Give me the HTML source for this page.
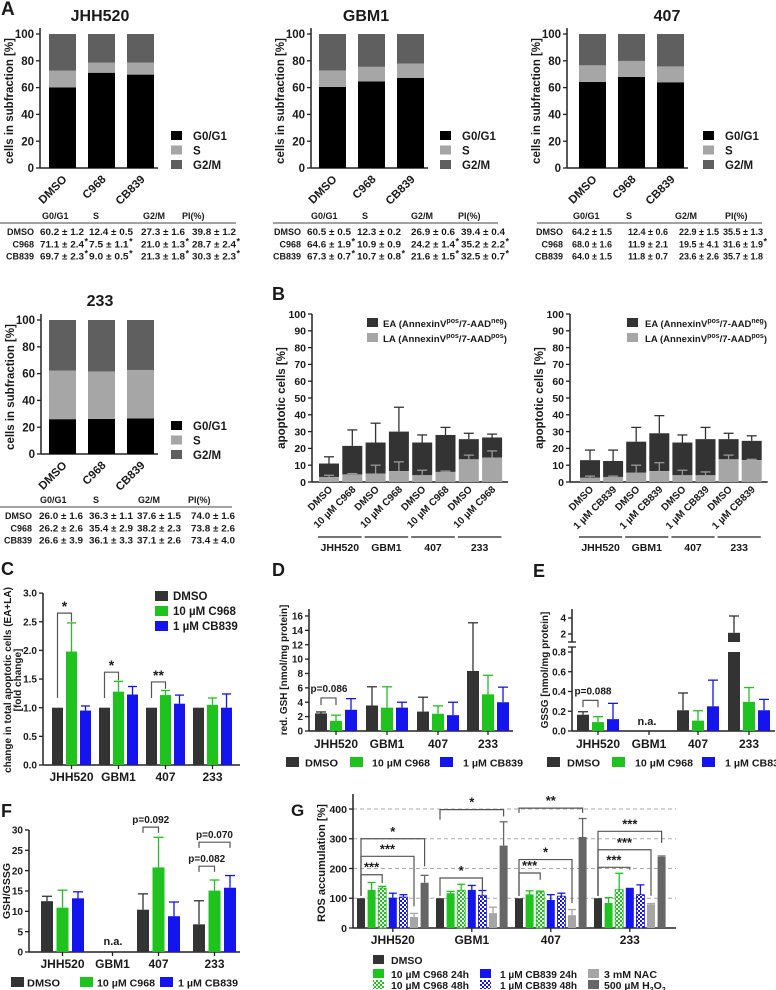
<!DOCTYPE html>
<html><head><meta charset="utf-8">
<style>
html,body{margin:0;padding:0;background:#fff;}
svg{display:block;font-family:"Liberation Sans",Arial,sans-serif;font-weight:bold;}
text{fill:#1a1a1a;}
</style></head>
<body>
<svg id="fig" width="776" height="990" viewBox="0 0 776 990" xmlns="http://www.w3.org/2000/svg">
<defs>
<pattern id="chkG" width="4" height="4" patternUnits="userSpaceOnUse"><rect width="4" height="4" fill="#fff"/><rect width="2" height="2" fill="#1ec31e"/><rect x="2" y="2" width="2" height="2" fill="#1ec31e"/></pattern>
<pattern id="chkB" width="4" height="4" patternUnits="userSpaceOnUse"><rect width="4" height="4" fill="#fff"/><rect width="2" height="2" fill="#1414ee"/><rect x="2" y="2" width="2" height="2" fill="#1414ee"/></pattern>
</defs>
<text x="1" y="15" font-size="19">A</text>
<text x="272" y="300" font-size="18">B</text>
<text x="1" y="575" font-size="18">C</text>
<text x="272" y="576" font-size="18">D</text>
<text x="533" y="577" font-size="18">E</text>
<text x="1" y="817" font-size="18">F</text>
<text x="291" y="816" font-size="17">G</text>
<!-- B legends -->
<g font-size="9.5">
<rect x="367" y="318" width="11" height="9" fill="#333"/><text x="383" y="327" textLength="124" lengthAdjust="spacingAndGlyphs">EA (AnnexinV<tspan dy="-4" font-size="7">pos</tspan><tspan dy="4">/7-AAD</tspan><tspan dy="-4" font-size="7">neg</tspan><tspan dy="4">)</tspan></text>
<rect x="367" y="333" width="11" height="9" fill="#a6a6a6"/><text x="383" y="342" textLength="124" lengthAdjust="spacingAndGlyphs">LA (AnnexinV<tspan dy="-4" font-size="7">pos</tspan><tspan dy="4">/7-AAD</tspan><tspan dy="-4" font-size="7">pos</tspan><tspan dy="4">)</tspan></text>
</g>
<g font-size="9.5">
<rect x="627" y="318" width="11" height="9" fill="#333"/><text x="645" y="327" textLength="122" lengthAdjust="spacingAndGlyphs">EA (AnnexinV<tspan dy="-4" font-size="7">pos</tspan><tspan dy="4">/7-AAD</tspan><tspan dy="-4" font-size="7">neg</tspan><tspan dy="4">)</tspan></text>
<rect x="627" y="333" width="11" height="9" fill="#a6a6a6"/><text x="645" y="342" textLength="122" lengthAdjust="spacingAndGlyphs">LA (AnnexinV<tspan dy="-4" font-size="7">pos</tspan><tspan dy="4">/7-AAD</tspan><tspan dy="-4" font-size="7">pos</tspan><tspan dy="4">)</tspan></text>
</g>
<!-- G legend -->
<g font-size="10.5">
<rect x="373" y="955" width="11" height="9" fill="#333"/><text x="391" y="964">DMSO</text>
<rect x="373" y="969" width="11" height="9" fill="#1ec31e"/><text x="391" y="978" textLength="78" lengthAdjust="spacingAndGlyphs">10 µM C968 24h</text>
<rect x="373" y="980" width="11" height="9" fill="url(#chkG)"/><text x="391" y="989" textLength="78" lengthAdjust="spacingAndGlyphs">10 µM C968 48h</text>
<rect x="480" y="969" width="11" height="9" fill="#1414ee"/><text x="500" y="978" textLength="77" lengthAdjust="spacingAndGlyphs">1 µM CB839 24h</text>
<rect x="480" y="980" width="11" height="9" fill="url(#chkB)"/><text x="500" y="989" textLength="77" lengthAdjust="spacingAndGlyphs">1 µM CB839 48h</text>
<rect x="588" y="969" width="11" height="9" fill="#a6a6a6"/><text x="604" y="978" textLength="53" lengthAdjust="spacingAndGlyphs">3 mM NAC</text>
<rect x="588" y="980" width="11" height="9" fill="#666"/><text x="604" y="989">500 µM H<tspan dy="3" font-size="7">2</tspan><tspan dy="-3">O</tspan><tspan dy="3" font-size="7">2</tspan></text>
</g>
</svg>
<script>
// ---------- DATA ----------
const cyclePhases = ['G0/G1','S','G2/M'];
const cycleTreat = ['DMSO','C968','CB839'];
const jhhG0 = [60.2, 71.1, 69.7];
const jhhS = [12.4, 7.5, 9.0];
const gbmG0 = [60.5, 64.6, 67.3];
const gbmS = [12.3, 10.9, 10.7];
const c407G0 = [64.2, 68.0, 64.0];
const c407S = [12.4, 11.9, 11.8];
const c233G0 = [26.0, 26.2, 26.6];
const c233S = [36.3, 35.4, 36.1];
const cycleTicks = [0, 20, 40, 60, 80, 100];
const tblHeader = ['G0/G1','S','G2/M','PI(%)'];
const jhhTable = [['60.2 ± 1.2','12.4 ± 0.5','27.3 ± 1.6','39.8 ± 1.2'],['71.1 ± 2.4*','7.5 ± 1.1*','21.0 ± 1.3*','28.7 ± 2.4*'],['69.7 ± 2.3*','9.0 ± 0.5*','21.3 ± 1.8*','30.3 ± 2.3*']];
const gbmTable = [['60.5 ± 0.5','12.3 ± 0.2','26.9 ± 0.6','39.4 ± 0.4'],['64.6 ± 1.9*','10.9 ± 0.9','24.2 ± 1.4*','35.2 ± 2.2*'],['67.3 ± 0.7*','10.7 ± 0.8*','21.6 ± 1.5*','32.5 ± 0.7*']];
const t407Table = [['64.2 ± 1.5','12.4 ± 0.6','22.9 ± 1.5','35.5 ± 1.3'],['68.0 ± 1.6','11.9 ± 2.1','19.5 ± 4.1','31.6 ± 1.9*'],['64.0 ± 1.5','11.8 ± 0.7','23.6 ± 2.6','35.7 ± 1.8']];
const t233Table = [['26.0 ± 1.6','36.3 ± 1.1','37.6 ± 1.5','74.0 ± 1.6'],['26.2 ± 2.6','35.4 ± 2.9','38.2 ± 2.3','73.8 ± 2.6'],['26.6 ± 3.9','36.1 ± 3.3','37.1 ± 2.6','73.4 ± 4.0']];

const cells = ['JHH520','GBM1','407','233'];
const bTicks = [0,10,20,30,40,50,60,70,80,90,100];
const bLeftTotal = [11, 21.5, 23.5, 30, 23.5, 28, 25.5, 26.5];
const bLeftTotalErr = [4, 9.5, 11.5, 14.5, 4.5, 4.5, 3.5, 2];
const bLeftLA = [3, 4.5, 5, 6.5, 4, 6, 13.5, 14.5];
const bLeftLAErr = [1, 0.5, 5, 5.5, 3, 0.5, 2.5, 4];
const bRightTotal = [13, 12.5, 24, 29, 23.5, 25.5, 25.5, 24.5];
const bRightTotalErr = [6, 6.5, 8.5, 10.5, 4.5, 7, 3.5, 3];
const bRightLA = [2.5, 3, 5.5, 6.5, 4, 4, 13.5, 13];
const bRightLAErr = [1, 0.5, 4.5, 5, 3, 2, 2.5, 0.5];

const cTicks = [0, 0.5, 1.0, 1.5, 2.0, 2.5, 3.0];
const cDMSO = [1, 1, 1, 1];
const cC968 = [1.98, 1.28, 1.22, 1.05];
const cC968Err = [0.5, 0.18, 0.08, 0.12];
const cCB839 = [0.95, 1.23, 1.07, 1.0];
const cCB839Err = [0.08, 0.14, 0.15, 0.24];
const cSigGroup = [0, 1, 2];
const cSigTop = [2.65, 1.62, 1.45];
const cSigRight = [2.5, 1.48, 1.33];
const cSigLabel = ['*', '*', '**'];

const dTicks = [0,2,4,6,8,10,12,14,16];
const dDMSO = [2.45, 3.55, 2.7, 8.35];
const dDMSOErr = [0.2, 2.6, 2.0, 6.7];
const dC968 = [1.4, 3.25, 2.4, 5.1];
const dC968Err = [0.8, 2.9, 1.1, 2.65];
const dCB839 = [2.95, 3.25, 2.2, 4.0];
const dCB839Err = [1.55, 0.75, 1.8, 2.1];

const eTicksLow = [0, 0.2, 0.4, 0.6, 0.8];
const eTicksHigh = [2, 4];
const eDMSO = [0.165, null, 0.21, 2.15];
const eDMSOErr = [0.03, null, 0.175, 2.1];
const eC968 = [0.09, null, 0.105, 0.295];
const eC968Err = [0.055, null, 0.1, 0.145];
const eCB839 = [0.12, null, 0.25, 0.21];
const eCB839Err = [0.16, null, 0.265, 0.11];

const fTicks = [0,5,10,15,20,25,30];
const fDMSO = [12.5, null, 10.4, 6.8];
const fDMSOErr = [1.2, null, 3.9, 5.8];
const fC968 = [10.9, null, 20.8, 15.1];
const fC968Err = [4.3, null, 7.4, 2.6];
const fCB839 = [13.2, null, 8.8, 15.8];
const fCB839Err = [1.6, null, 3.5, 3.0];
const fSigGroup = [2, 3, 3];
const fSigBar = [1, 2, 1];
const fSigTop = [30.7, 27.0, 21.1];
const fSigLabel = ['p=0.092', 'p=0.070', 'p=0.082'];

const gTicks = [0, 100, 200, 300, 400];
const gDMSO = [100, 100, 100, 100];
const gC968_24 = [128, 117, 113, 84];
const gC968_24Err = [25, 6, 12, 18];
const gC968_48 = [134, 127, 121, 129];
const gC968_48Err = [6, 20, 3, 55];
const gCB_24 = [102, 128, 94, 131];
const gCB_24Err = [15, 15, 18, 2];
const gCB_48 = [104, 110, 107, 112];
const gCB_48Err = [8, 16, 10, 33];
const gNAC = [37, 50, 43, 79];
const gNACErr = [12, 20, 19, 3];
const gH2O2 = [152, 277, 306, 239];
const gH2O2Err = [25, 80, 62, 3];
const gSigGroup = [0, 0, 0, 1, 1, 2, 2, 2, 3, 3, 3];
const gSigBar = [2, 5, 6, 4, 6, 2, 5, 6, 3, 5, 6];
const gSigTop = [179, 241, 300, 168, 398, 185, 230, 403, 204, 263, 325];
const gSigRight = [151, 73, 207, 95, 375, 162, 84, 387, 196, 109, 286];
const gSigLeft = [108, 108, 108, 108, 364, 108, 108, 387, 108, 108, 108];
const gSigLabel = ['***', '***', '*', '*', '*', '***', '*', '**', '***', '***', '***'];

// ---------- HELPERS ----------
const NS = 'http://www.w3.org/2000/svg';
const svg = document.getElementById('fig');
function mk(tag, attrs, name, parent) {
  const e = document.createElementNS(NS, tag);
  for (const k in attrs) e.setAttribute(k, attrs[k]);
  
  
  (parent || svg).appendChild(e);
  return e;
}
function txt(x, y, s, size, anchor, name, extra) {
  const a = Object.assign({x: x, y: y, 'font-size': size, 'text-anchor': anchor || 'start'}, extra || {});
  const t = mk('text', a, name);
  t.textContent = s;
  return t;
}
function ln(x1, y1, x2, y2, stroke, sw, name) {
  return mk('line', {x1: x1, y1: y1, x2: x2, y2: y2, stroke: stroke, 'stroke-width': sw}, name);
}
function rc(x, y, w, h, fill, name) {
  return mk('rect', {x: x, y: y, width: w, height: Math.max(0, h), fill: fill}, name);
}
function err(cx, y1, y2, col, cap, name) {
  ln(cx, y1, cx, y2, col, 1.3, name);
  ln(cx - cap / 2, y2, cx + cap / 2, y2, col, 1.3, name + '-cap');
}
function vlabel(x, y, s, size, name) {
  return txt(x, y, s, size, 'middle', name, {transform: 'rotate(-90 ' + x + ' ' + y + ')'});
}
function bracket(x1, yl, x2, yt, yr, name) {
  mk('path', {d: 'M' + x1 + ' ' + yl + 'V' + yt + 'H' + x2 + 'V' + yr, fill: 'none', stroke: '#555', 'stroke-width': 1.2}, name);
}
function yAxis(ax, yTop, yBot, ticks, ys, size, fmt, name) {
  ln(ax, yTop, ax, yBot, '#222', 1.5, name + '-line');
  ticks.forEach(v => {
    const y = ys(v);
    ln(ax - 4, y, ax, y, '#222', 1.3, name + '-tick');
    txt(ax - 6, y + size * 0.36, fmt(v), size, 'end', name + '-tick-label');
  });
}

// ---------- PANEL A ----------
const COLG0 = '#000', COLS = '#a6a6a6', COLG2 = '#5f5f5f';
function cyclePanel(p, g0, s, tbl) {
  const ys = v => p.y0 - v * (p.y0 - p.y100) / 100;
  txt(p.tx, p.ty, p.title, 16, 'middle', 'cell-cycle-title-' + p.key);
  yAxis(p.ax, p.y100 - 6, p.y0, cycleTicks, ys, 11.5, v => String(v), 'cell-cycle-y-axis-' + p.key);
  vlabel(p.ax - 27, (p.y0 + p.y100) / 2, 'cells in subfraction [%]', 11.5, 'cell-cycle-y-title-' + p.key);
  ln(p.ax, p.y0, p.bx + 2 * 39 + 31, p.y0, '#222', 1.5, 'cell-cycle-x-axis-' + p.key);
  cycleTreat.forEach((t, i) => {
    const x = p.bx + i * 39;
    rc(x, ys(g0[i]), 27, ys(0) - ys(g0[i]), COLG0, 'bar-g0g1-' + p.key + '-' + t);
    rc(x, ys(g0[i] + s[i]), 27, ys(g0[i]) - ys(g0[i] + s[i]), COLS, 'bar-s-' + p.key + '-' + t);
    rc(x, ys(100), 27, ys(g0[i] + s[i]) - ys(100), COLG2, 'bar-g2m-' + p.key + '-' + t);
    const cx = x + 13.5 + 5, cy = p.y0 + 12;
    txt(cx, cy, t, 11.5, 'end', 'x-tick-label-' + p.key, {transform: 'rotate(-45 ' + cx + ' ' + cy + ')'});
  });
  [COLG0, COLS, COLG2].forEach((c, i) => {
    rc(p.lx, p.ly + i * 14.5, 11, 9, c, 'legend-swatch-' + p.key);
    txt(p.lx + 22, p.ly + 9 + i * 14.5, cyclePhases[i], 11.5, 'start', 'legend-entry-' + p.key);
  });
  tblHeader.forEach((h, i) => txt(p.hx[i], p.tyh, h, 9, 'start', 'table-header-' + p.key, {fill: '#333'}));
  ln(p.l1, p.tyh + 4, p.l2, p.tyh + 4, '#444', 1, 'table-rule-' + p.key);
  tbl.forEach((row, r) => {
    const y = p.tyh + 16 + r * 12.3;
    txt(p.lr, y, cycleTreat[r], 9, 'end', 'table-row-label-' + p.key, {fill: '#333'});
    row.forEach((v, c) => {
      const star = v.endsWith('*');
      const main = star ? v.slice(0, -1) : v;
      const len = main.length * p.cw;
      txt(p.vx[c], y, main, 9, 'start', 'table-cell-' + p.key, {fill: '#333', textLength: len, lengthAdjust: 'spacingAndGlyphs'});
      if (star) txt(p.vx[c] + len + 0.5, y - 3, '*', 9, 'start', 'table-star-' + p.key, {fill: '#333'});
    });
  });
}
cyclePanel({key:'jhh520', title:'JHH520', tx:100, ty:21, ax:40, y100:34, y0:168, bx:49, lx:171, ly:131, cw:4.4,
  hx:[42,93,143,182], vx:[40,89,141,192], lr:34, tyh:219, l1:0, l2:236}, jhhG0, jhhS, jhhTable);
cyclePanel({key:'gbm1', title:'GBM1', tx:366, ty:21, ax:311, y100:34, y0:168, bx:319, lx:440, ly:131, cw:4.4,
  hx:[311,362,411,458], vx:[307,357,411,461], lr:301, tyh:219, l1:273, l2:498}, gbmG0, gbmS, gbmTable);
cyclePanel({key:'407', title:'407', tx:667, ty:21, ax:567, y100:34, y0:168, bx:579, lx:703, ly:131, cw:4.0,
  hx:[573,626,675,725], vx:[572,628,679,723], lr:563, tyh:219, l1:537, l2:762}, c407G0, c407S, t407Table);
cyclePanel({key:'233', title:'233', tx:100, ty:306, ax:41, y100:320, y0:454, bx:49, lx:171, ly:421, cw:4.4,
  hx:[40,93,138,188], vx:[39,89,137,191], lr:32, tyh:503, l1:0, l2:232}, c233G0, c233S, t233Table);

// ---------- PANEL B ----------
function apoPanel(p, tot, totErr, la, laErr, treatName) {
  const ys = v => p.y0 - v * (p.y0 - p.y100) / 100;
  yAxis(p.ax, p.y100, p.y0, bTicks, ys, 10.5, v => String(v), 'apoptosis-y-axis-' + p.key);
  vlabel(p.ax - 27, (p.y0 + p.y100) / 2, 'apoptotic cells [%]', 11.5, 'apoptosis-y-title-' + p.key);
  ln(p.ax, p.y0, p.bx + 7 * p.step + 26, p.y0, '#222', 1.5, 'apoptosis-x-axis-' + p.key);
  tot.forEach((v, i) => {
    const x = p.bx + i * p.step, cx = x + 10;
    err(cx, ys(v), ys(v + totErr[i]), '#333', 10, 'apoptosis-ea-error-' + p.key);
    rc(x, ys(v), 20, ys(la[i]) - ys(v), '#333', 'apoptosis-ea-bar-' + p.key);
    rc(x, ys(la[i]), 20, ys(0) - ys(la[i]), '#a6a6a6', 'apoptosis-la-bar-' + p.key);
    err(cx, ys(la[i]), ys(la[i] + laErr[i]), '#999', 10, 'apoptosis-la-error-' + p.key);
    const lx = cx + 4, ly = p.y0 + 8;
    txt(lx, ly, i % 2 ? treatName : 'DMSO', 10, 'end', 'apoptosis-x-tick-label-' + p.key, {transform: 'rotate(-45 ' + lx + ' ' + ly + ')'});
  });
  cells.forEach((c, g) => {
    const x1 = p.bx + g * 2 * p.step - 1, x2 = x1 + 2 * p.step - 3;
    ln(x1, 537, x2, 537, '#222', 1.3, 'apoptosis-group-line-' + p.key);
    txt((x1 + x2) / 2, 551, c, 10.5, 'middle', 'apoptosis-group-label-' + p.key);
  });
}
apoPanel({key:'c968', ax:312, y100:314, y0:482, bx:319, step:23.3}, bLeftTotal, bLeftTotalErr, bLeftLA, bLeftLAErr, '10 µM C968');
apoPanel({key:'cb839', ax:570, y100:314, y0:482, bx:580, step:23.1}, bRightTotal, bRightTotalErr, bRightLA, bRightLAErr, '1 µM CB839');

// ---------- GROUPED BAR helper (C,D,E,F) ----------
const DK = '#333', GR = '#1ec31e', BL = '#1414ee';
function groupBars(p, series, errs, ys, key) {
  const cols = [DK, GR, BL];
  series.forEach((arr, s) => {
    arr.forEach((v, g) => {
      if (v === null) return;
      const x = p.gx[g] + s * p.step, cx = x + p.w / 2;
      if (errs[s] && errs[s][g]) err(cx, ys(v), ys(v + errs[s][g]), cols[s], p.w - 2, key + '-error');
      if (p.split && v > 0.8) {
        rc(x, ys(0.8), p.w, ys(0) - ys(0.8), cols[s], key + '-bar-lower');
        rc(x, p.hs(v), p.w, p.hs(1) - p.hs(v), cols[s], key + '-bar-upper');
      } else {
        rc(x, ys(v), p.w, ys(0) - ys(v), cols[s], key + '-bar');
      }
    });
  });
  cells.forEach((c, g) => {
    const cx = p.gx[g] + p.step + p.w / 2;
    ln(cx, p.y0, cx, p.y0 + 4, '#222', 1.3, key + '-x-tick');
    txt(cx, p.ly, c, 12, 'middle', key + '-x-tick-label');
  });
}
function legendRow(xs, txs, y, key) {
  const names = ['DMSO', '10 µM C968', '1 µM CB839'];
  const lens = [33, 58, 60];
  [DK, GR, BL].forEach((c, i) => {
    rc(xs[i], y, 13, 10, c, key + '-legend-swatch');
    txt(txs[i], y + 9.5, names[i], 10.5, 'start', key + '-legend-entry', {textLength: lens[i], lengthAdjust: 'spacingAndGlyphs'});
  });
}

// ---------- PANEL C ----------
(function () {
  const y0 = 765, k = 57.3, ys = v => y0 - v * k;
  const p = {gx: [52, 99, 146, 193], step: 14, w: 11, y0: y0, ly: 781};
  yAxis(43, ys(3), y0, cTicks, ys, 10, v => v.toFixed(1), 'c-y-axis');
  ln(43, y0, 240, y0, '#222', 1.5, 'c-x-axis');
  groupBars(p, [cDMSO, cC968, cCB839], [null, cC968Err, cCB839Err], ys, 'c');
  cSigGroup.forEach((g, i) => {
    const x1 = p.gx[g] + p.w / 2, x2 = p.gx[g] + p.step + p.w / 2;
    bracket(x1, ys(1.17), x2, ys(cSigTop[i]), ys(cSigRight[i]), 'c-significance-bracket');
    txt((x1 + x2) / 2, ys(cSigTop[i]) - 2, cSigLabel[i], 14, 'middle', 'c-significance-label');
  });
  vlabel(11, 680, 'change in total apoptotic cells (EA+LA)', 10, 'c-y-title');
  vlabel(21, 680, '[fold change]', 10, 'c-y-title-2');
  const names = ['DMSO', '10 µM C968', '1 µM CB839'];
  [DK, GR, BL].forEach((c, i) => {
    rc(155, 591 + i * 15, 13, 10, c, 'c-legend-swatch');
    txt(173, 600 + i * 15, names[i], 11.5, 'start', 'c-legend-entry');
  });
})();

// ---------- PANEL D ----------
(function () {
  const y0 = 731, k = 7.19, ys = v => y0 - v * k;
  const p = {gx: [315, 366, 417, 467], step: 15, w: 12, y0: y0, ly: 748};
  yAxis(309, 609, y0, dTicks, ys, 10, v => String(v), 'd-y-axis');
  ln(309, y0, 513, y0, '#222', 1.5, 'd-x-axis');
  groupBars(p, [dDMSO, dC968, dCB839], [dDMSOErr, dC968Err, dCB839Err], ys, 'd');
  bracket(p.gx[0] + 6, ys(3.6), p.gx[0] + 21, ys(4.6), ys(3.6), 'd-significance-bracket');
  txt(p.gx[0] + 14, ys(5.4), 'p=0.086', 10, 'middle', 'd-significance-label');
  vlabel(287, 670, 'red. GSH [nmol/mg protein]', 10, 'd-y-title');
  legendRow([286, 350, 440], [305, 372, 463], 757, 'd');
})();

// ---------- PANEL E ----------
(function () {
  const y0 = 731, k = 98.75, ys = v => y0 - v * k;
  const hs = v => 642 - (v - 1) * 8;
  const ysAll = v => v <= 0.8 ? ys(v) : hs(v);
  const p = {gx: [577, 628, 677, 728], step: 15, w: 12, y0: y0, ly: 748, split: true, hs: hs};
  ln(572, 647, 572, y0, '#222', 1.5, 'e-y-axis-lower');
  ln(572, 609, 572, 642, '#222', 1.5, 'e-y-axis-upper');
  ln(568, 647, 576, 647, '#222', 1.3, 'e-axis-break');
  ln(568, 642, 576, 642, '#222', 1.3, 'e-axis-break');
  eTicksLow.forEach(v => { ln(568, ys(v), 572, ys(v), '#222', 1.3, 'e-y-tick'); txt(566, ys(v) + 3.6, v.toFixed(1), 10, 'end', 'e-y-tick-label'); });
  eTicksHigh.forEach(v => { ln(568, hs(v), 572, hs(v), '#222', 1.3, 'e-y-tick'); txt(566, hs(v) + 3.6, String(v), 10, 'end', 'e-y-tick-label'); });
  ln(572, y0, 775, y0, '#222', 1.5, 'e-x-axis');
  groupBars(p, [eDMSO, eC968, eCB839], [eDMSOErr, eC968Err, eCB839Err], ysAll, 'e');
  txt(647, 725, 'n.a.', 11, 'middle', 'e-na-label');
  bracket(p.gx[0] + 6, ys(0.24), p.gx[0] + 21, ys(0.31), ys(0.24), 'e-significance-bracket');
  txt(p.gx[0] + 16, ys(0.37), 'p=0.088', 10, 'middle', 'e-significance-label');
  vlabel(548, 670, 'GSSG [nmol/mg protein]', 10, 'e-y-title');
  legendRow([547, 612, 702], [567, 635, 725], 757, 'e');
})();

// ---------- PANEL F ----------
(function () {
  const y0 = 952, k = 4.067, ys = v => y0 - v * k;
  const p = {gx: [41, 91, 137, 193], step: 15.5, w: 12, y0: y0, ly: 968};
  yAxis(29, ys(30), y0, fTicks, ys, 10, v => String(v), 'f-y-axis');
  ln(29, y0, 240, y0, '#222', 1.5, 'f-x-axis');
  groupBars(p, [fDMSO, fC968, fCB839], [fDMSOErr, fC968Err, fCB839Err], ys, 'f');
  txt(113, 945, 'n.a.', 11, 'middle', 'f-na-label');
  fSigGroup.forEach((g, i) => {
    const x1 = p.gx[g] + p.w / 2, x2 = p.gx[g] + fSigBar[i] * p.step + p.w / 2;
    bracket(x1, ys(fSigTop[i] - 1.4), x2, ys(fSigTop[i]), ys(fSigTop[i] - 1.4), 'f-significance-bracket');
    txt((x1 + x2) / 2, ys(fSigTop[i]) - 4, fSigLabel[i], 10, 'middle', 'f-significance-label');
  });
  vlabel(10, 891, 'GSH/GSSG', 10.5, 'f-y-title');
  legendRow([11, 80, 160], [27, 97, 178], 977, 'f');
})();

// ---------- PANEL G ----------
(function () {
  const y0 = 928, k = 0.2975, ys = v => y0 - v * k;
  const gx = [357, 436, 515, 594], step = 10.6, w = 8;
  gTicks.forEach(v => { if (v > 0) mk('line', {x1: 353, y1: ys(v), x2: 676, y2: ys(v), stroke: '#aaa', 'stroke-width': 1, 'stroke-dasharray': '4 3'}, 'g-gridline'); });
  yAxis(353, 794, y0, gTicks, ys, 10.5, v => String(v), 'g-y-axis');
  ln(353, y0, 676, y0, '#222', 1.5, 'g-x-axis');
  const ser = [gDMSO, gC968_24, gC968_48, gCB_24, gCB_48, gNAC, gH2O2];
  const errs = [null, gC968_24Err, gC968_48Err, gCB_24Err, gCB_48Err, gNACErr, gH2O2Err];
  const fills = ['#333', '#1ec31e', 'url(#chkG)', '#1414ee', 'url(#chkB)', '#a6a6a6', '#666'];
  const ecol = ['#333', '#1ec31e', '#1ec31e', '#1414ee', '#1414ee', '#a6a6a6', '#666'];
  ser.forEach((arr, s) => arr.forEach((v, g) => {
    const x = gx[g] + s * step;
    if (errs[s]) err(x + w / 2, ys(v), ys(v + errs[s][g]), ecol[s], w, 'g-error');
    const r = rc(x, ys(v), w, ys(0) - ys(v), fills[s], 'g-bar');
    if (s === 2 || s === 4) { r.setAttribute('stroke', ecol[s]); r.setAttribute('stroke-width', '0.8'); }
  }));
  cells.forEach((c, g) => {
    const cx = gx[g] + 3 * step + w / 2;
    ln(cx, y0, cx, y0 + 4, '#222', 1.3, 'g-x-tick');
    txt(cx, 944, c, 12, 'middle', 'g-x-tick-label');
  });
  gSigGroup.forEach((g, i) => {
    const x1 = gx[g] + w / 2, x2 = gx[g] + gSigBar[i] * step + w / 2;
    bracket(x1, ys(gSigLeft[i]), x2, ys(gSigTop[i]), ys(gSigRight[i]), 'g-significance-bracket');
    txt((x1 + x2) / 2, ys(gSigTop[i]) - 3, gSigLabel[i], 13, 'middle', 'g-significance-label');
  });
  vlabel(325, 863, 'ROS accumulation [%]', 11, 'g-y-title');
})();
</script>
</body></html>
